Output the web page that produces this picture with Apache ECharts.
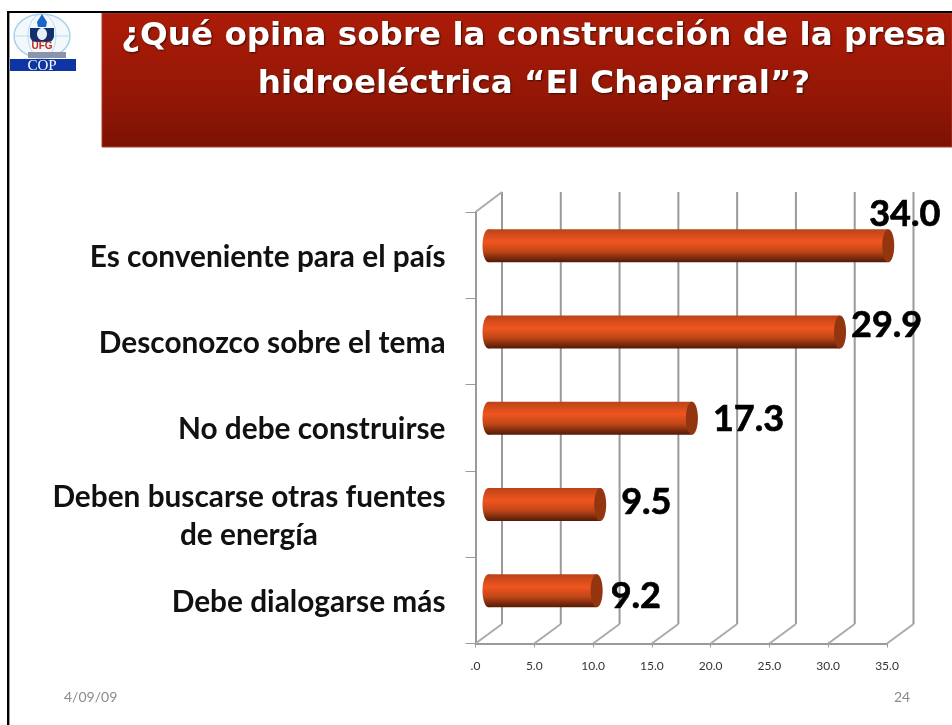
<!DOCTYPE html>
<html><head><meta charset="utf-8">
<style>html,body{margin:0;padding:0;background:#fff}#c{width:952px;height:725px}</style>
<script src="https://cdn.jsdelivr.net/npm/echarts@6/dist/echarts.min.js"></script>
</head><body><div id="c"></div>
<script>
const categories = ['Es conveniente para el país','Desconozco sobre el tema','No debe construirse','Deben buscarse otras fuentes\nde energía','Debe dialogarse más'];
const values = [34.0,29.9,17.3,9.5,9.2];
const tickValues = [0,5,10,15,20,25,30,35];
const tickLabels = ['.0','5.0','10.0','15.0','20.0','25.0','30.0','35.0'];
const titleLines = '¿Qué opina sobre la construcción de la presa\nhidroeléctrica “El Chaparral”?';
const footerDate = '4/09/09';
const footerPage = '24';

const LAB = "Lato, 'Noto Sans', sans-serif";
const depthX = 26.5, depthY = 19.5, barDX = 13, barDY = -9.5, barH = 33, capRx = 6;
const nudges = [[-25,-31],[5,-7],[15,1],[15,-2],[8,6]];

const chart = echarts.init(document.getElementById('c'), null, {renderer:'canvas'});
chart.setOption({
  animation:false,
  backgroundColor:'#fff',
  grid:{left:475.5,right:65,top:212,bottom:81.5,containLabel:false},
  xAxis:{type:'value',min:0,max:35,interval:5,
    axisLine:{show:true,lineStyle:{color:'#9a9a9a',width:2}},
    axisTick:{show:true,length:4,lineStyle:{color:'#9a9a9a',width:1}},
    axisLabel:{margin:17,fontFamily:LAB,fontSize:12,color:'#333',
      formatter:v=>tickLabels[tickValues.indexOf(v)]},
    splitLine:{show:false}},
  yAxis:{type:'category',inverse:true,data:categories,
    axisLine:{show:true,onZero:false,lineStyle:{color:'#9a9a9a',width:2}},
    axisTick:{show:true,length:10,lineStyle:{color:'#9a9a9a',width:1}},
    axisLabel:{margin:30,padding:[4,0,0,0],
      formatter:v=>v.split('\n').map(s=>'{c|'+s+'}').join('\n'),
      rich:{c:{align:'center',fontFamily:LAB,fontWeight:'bold',fontSize:29.8,color:'#111',lineHeight:38}}}},
  series:[
    {type:'custom',silent:true,z:1,coordinateSystem:'cartesian2d',
     data:tickValues.map(v=>[v,0]),
     renderItem(params,api){
       const x=api.coord([api.value(0),0])[0];
       const cs=params.coordSys, b=cs.y+cs.height, t=cs.y;
       const kids=[
         {type:'line',shape:{x1:x,y1:b,x2:x+depthX,y2:b-depthY},style:{stroke:'#ababab',lineWidth:2}},
         {type:'line',shape:{x1:x+depthX,y1:b-depthY,x2:x+depthX,y2:t-depthY-0.5},style:{stroke:'#9a9a9a',lineWidth:2}}
       ];
       if(api.value(0)===0) kids.push({type:'line',shape:{x1:x,y1:t,x2:x+depthX,y2:t-depthY-0.5},style:{stroke:'#ababab',lineWidth:2}});
       return {type:'group',children:kids};
     }},
    {type:'custom',silent:true,z:3,coordinateSystem:'cartesian2d',
     data:values.map((v,i)=>[v,i]),
     renderItem(params,api){
       const i=params.dataIndex, v=api.value(0);
       const p0=api.coord([0,i]), p1=api.coord([v,i]);
       const x0=p0[0]+barDX, x1=p1[0]+barDX, cy=p0[1]+barDY;
       const grad=new echarts.graphic.LinearGradient(0,0,0,1,[
         {offset:0,color:'#b8431a'},{offset:0.1,color:'#c9481a'},{offset:0.38,color:'#f0551f'},
         {offset:0.68,color:'#bf4617'},{offset:0.88,color:'#7a2a0c'},{offset:1,color:'#521a06'}]);
       const fs=36, n=nudges[i];
       return {type:'group',children:[
         {type:'ellipse',shape:{cx:x0,cy:cy,rx:capRx,ry:barH/2},style:{fill:grad}},
         {type:'rect',shape:{x:x0,y:cy-barH/2,width:x1-x0,height:barH},style:{fill:grad}},
         {type:'ellipse',shape:{cx:x1,cy:cy,rx:capRx,ry:barH/2},style:{fill:'#93350f'}},
         {type:'text',style:{text:v.toFixed(1),x:x1+capRx+n[0],y:cy+n[1],fontFamily:LAB,fontWeight:'bold',fontSize:fs,fill:'#000',stroke:'#000',lineWidth:0.7,textAlign:'left',textVerticalAlign:'middle'}}
       ]};
     }}
  ],
  graphic:[
    {type:'rect',silent:true,shape:{x:102,y:13,width:850,height:134},z:0,
     style:{fill:new echarts.graphic.LinearGradient(0,0,0,1,[{offset:0,color:'#ac1c08'},{offset:0.6,color:'#951706'},{offset:1,color:'#7b1204'}]),stroke:'#b0382a',lineWidth:1}},
    {type:'rect',silent:true,shape:{x:7,y:11,width:945,height:2},style:{fill:'#000'}},
    {type:'rect',silent:true,shape:{x:7,y:11,width:2.4,height:714},style:{fill:'#000'}},
    {type:'text',silent:true,z:5,style:{text:titleLines,x:534,y:61,fontFamily:"'DejaVu Sans'",fontWeight:'bold',fontSize:32.6,lineHeight:48,fill:'#fff',textAlign:'center',textVerticalAlign:'middle',textShadowColor:'#3a0a02',textShadowBlur:2,textShadowOffsetX:1,textShadowOffsetY:1}},
    // logo
    {type:'ellipse',silent:true,shape:{cx:42,cy:36,rx:28,ry:22},style:{fill:'#f2f8fc',stroke:'#a9d2ea',lineWidth:1.5}},
    {type:'ellipse',silent:true,shape:{cx:42,cy:36,rx:14,ry:22},style:{fill:'none',stroke:'#b9dcef',lineWidth:1}},
    {type:'line',silent:true,shape:{x1:14,y1:36,x2:70,y2:36},style:{stroke:'#b9dcef',lineWidth:1}},
    {type:'polygon',silent:true,shape:{points:[[42,14],[47,22],[46,27],[38,27],[37,22]]},style:{fill:'#1766c8'}},
    {type:'rect',silent:true,shape:{x:30,y:28,width:24,height:14,r:[0,0,6,6]},style:{fill:'#12306e'}},
    {type:'ellipse',silent:true,shape:{cx:42,cy:34,rx:5,ry:6},style:{fill:'#e8eef5'}},
    {type:'text',silent:true,style:{text:'UFG',x:42,y:46,fontFamily:"'Liberation Sans'",fontWeight:'bold',fontSize:10,fill:'#c0281c',textAlign:'center',textVerticalAlign:'middle'}},
    {type:'rect',silent:true,shape:{x:28,y:52,width:38,height:6},style:{fill:'#8d93a8'}},
    {type:'rect',silent:true,shape:{x:10,y:59,width:66,height:12},style:{fill:'#0f34a4'}},
    {type:'text',silent:true,style:{text:'COP',x:42,y:66,fontFamily:"'Liberation Serif'",fontSize:15,fill:'#fff',textAlign:'center',textVerticalAlign:'middle'}},
    // footer
    {type:'text',silent:true,style:{text:footerDate,x:64,y:697,fontFamily:LAB,fontSize:14,fill:'#8b8b8b',textVerticalAlign:'middle'}},
    {type:'text',silent:true,style:{text:footerPage,x:894,y:697,fontFamily:LAB,fontSize:14,fill:'#8b8b8b',textVerticalAlign:'middle'}}
  ]
});
</script></body></html>
